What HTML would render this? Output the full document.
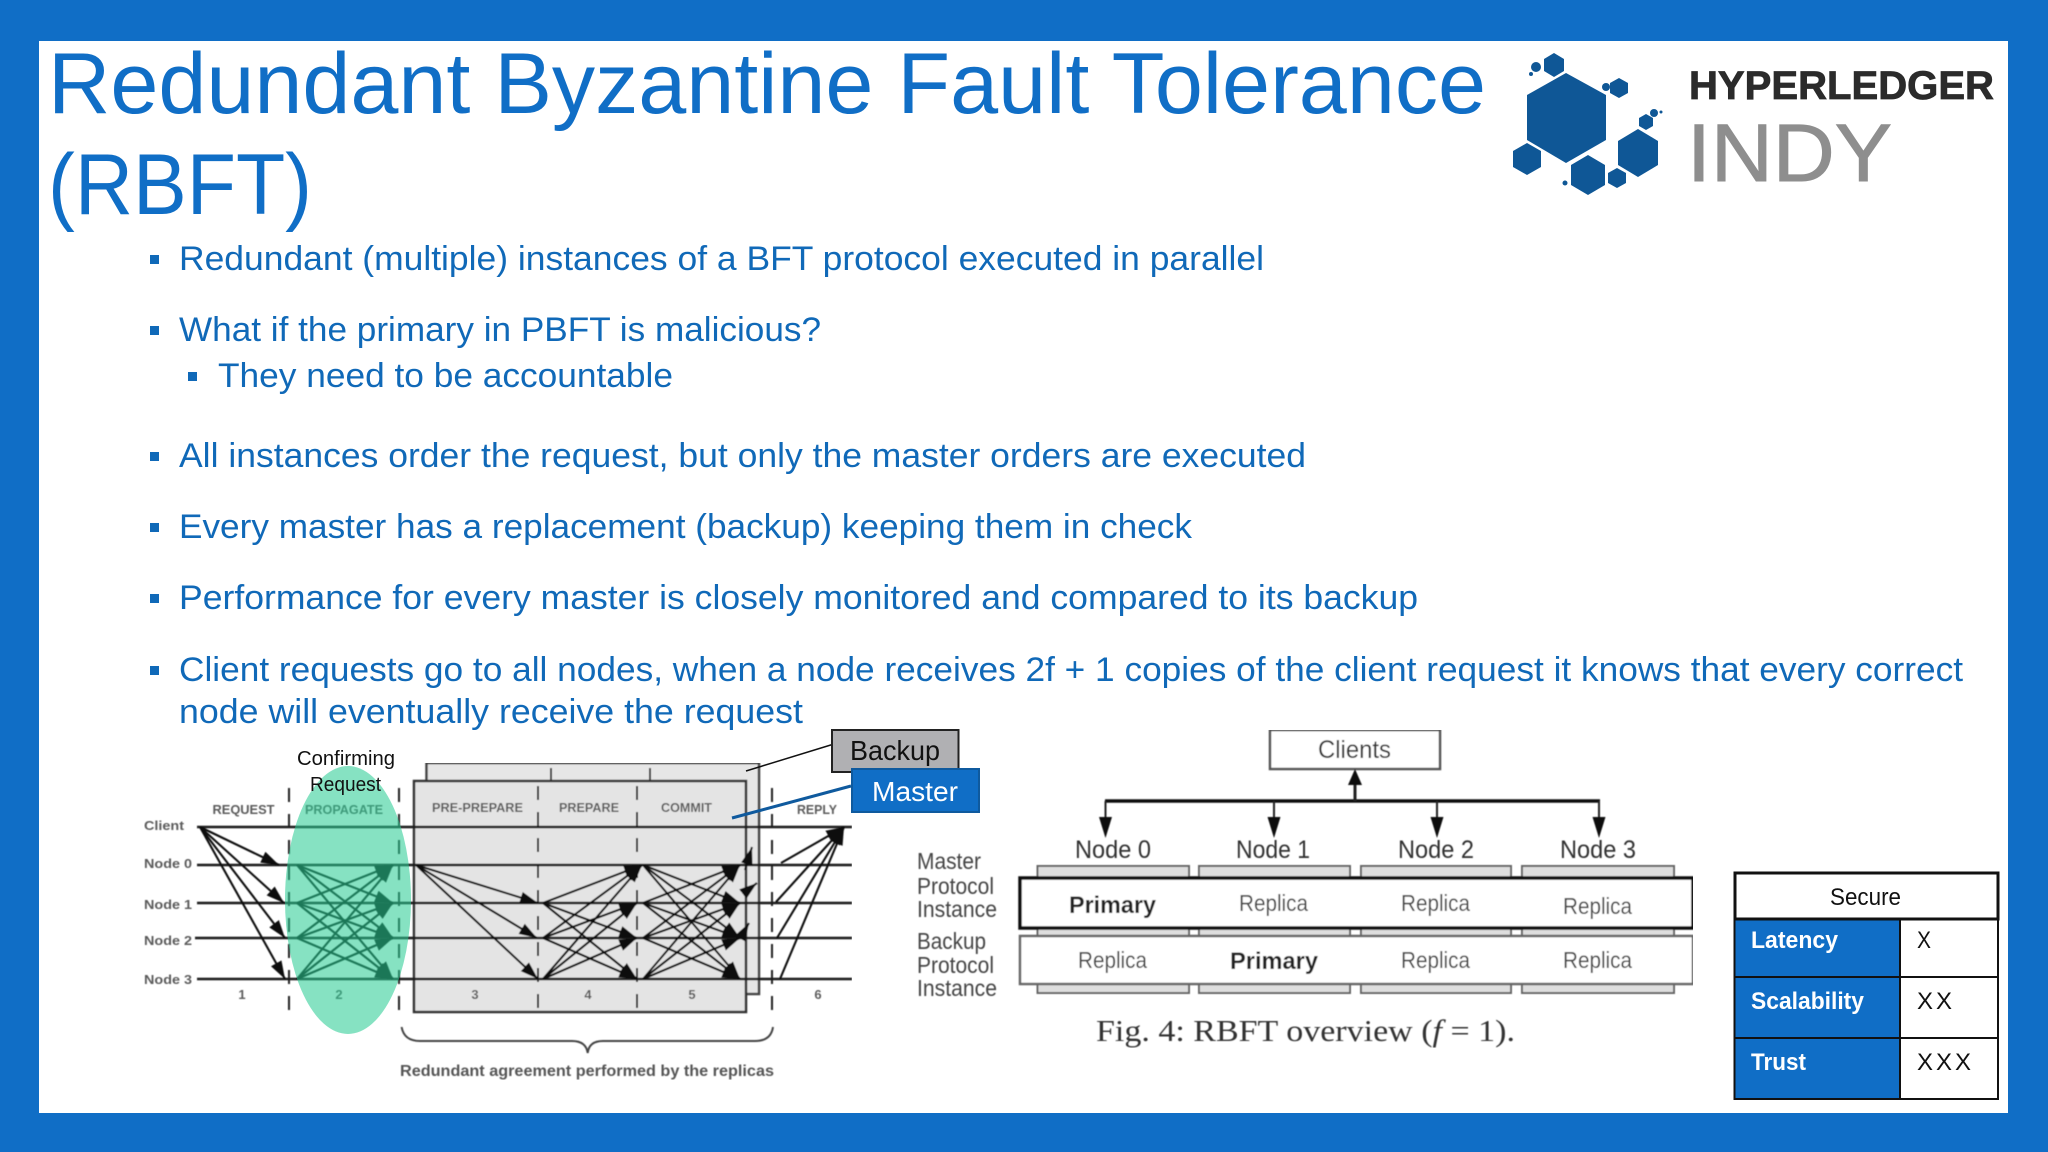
<!DOCTYPE html>
<html lang="en"><head><meta charset="utf-8"><title>Redundant Byzantine Fault Tolerance (RBFT)</title>
<style>
html,body{margin:0;padding:0;background:#106ec6;width:2048px;height:1152px;overflow:hidden}
svg{display:block;position:absolute;left:0;top:0}
text{font-family:"Liberation Sans",sans-serif}
.t{fill:#106ec6;font-size:86px}
.b{fill:#1069b8;font-size:34px}
.l{fill:#5c5c5c;font-size:13px;font-weight:bold}
.n{fill:#333;font-size:25px}
.s{fill:#444;font-size:23px}
.w{fill:#fff;font-size:24px;font-weight:bold}
.k{fill:#111;font-size:24px}
</style></head><body>
<svg width="2048" height="1152" viewBox="0 0 2048 1152">
<defs>
<marker id="a" markerUnits="userSpaceOnUse" markerWidth="19" markerHeight="14" refX="18" refY="7" orient="auto"><path d="M0 1 L18 7 L0 13 Z" fill="#111"/></marker>
<filter id="f" x="0" y="0" width="1" height="1"><feGaussianBlur stdDeviation="0.45"/></filter>
</defs>
<rect width="2048" height="1152" fill="#106ec6"/>
<rect x="39" y="41" width="1969" height="1072" fill="#fff"/>

<!-- title -->
<text class="t" x="48" y="113" textLength="1438" lengthAdjust="spacingAndGlyphs">Redundant Byzantine Fault Tolerance</text>
<text class="t" x="48" y="214" textLength="264" lengthAdjust="spacingAndGlyphs">(RBFT)</text>

<!-- bullets -->
<g fill="#1069b8">
<rect x="150" y="255" width="9" height="9"/><rect x="150" y="326" width="9" height="9"/>
<rect x="188" y="372" width="9" height="9"/><rect x="150" y="452" width="9" height="9"/>
<rect x="150" y="523" width="9" height="9"/><rect x="150" y="594" width="9" height="9"/>
<rect x="150" y="666" width="9" height="9"/>
</g>
<text class="b" x="179" y="270" textLength="1085" lengthAdjust="spacingAndGlyphs">Redundant (multiple) instances of a BFT protocol executed in parallel</text>
<text class="b" x="179" y="341" textLength="642" lengthAdjust="spacingAndGlyphs">What if the primary in PBFT is malicious?</text>
<text class="b" x="218" y="387" textLength="455" lengthAdjust="spacingAndGlyphs">They need to be accountable</text>
<text class="b" x="179" y="467" textLength="1127" lengthAdjust="spacingAndGlyphs">All instances order the request, but only the master orders are executed</text>
<text class="b" x="179" y="538" textLength="1013" lengthAdjust="spacingAndGlyphs">Every master has a replacement (backup) keeping them in check</text>
<text class="b" x="179" y="609" textLength="1239" lengthAdjust="spacingAndGlyphs">Performance for every master is closely monitored and compared to its backup</text>
<text class="b" x="179" y="681" textLength="1784" lengthAdjust="spacingAndGlyphs">Client requests go to all nodes, when a node receives 2f + 1 copies of the client request it knows that every correct</text>
<text class="b" x="179" y="723" textLength="624" lengthAdjust="spacingAndGlyphs">node will eventually receive the request</text>

<!-- logo -->
<g fill="#0f5796">
<polygon points="1566,73 1606,95 1606,140 1566,163 1527,140 1527,95"/>
<polygon points="1554,53 1564,59 1564,71 1554,77 1544,71 1544,59"/>
<polygon points="1619,78 1628,83 1628,93 1619,98 1610,93 1610,83"/>
<polygon points="1527,143 1541,151 1541,167 1527,175 1513,167 1513,151"/>
<polygon points="1588,155 1605,165 1605,185 1588,195 1571,185 1571,165"/>
<polygon points="1638,129 1658,141 1658,165 1638,177 1618,165 1618,141"/>
<polygon points="1617,168 1626,173 1626,183 1617,188 1608,183 1608,173"/>
<polygon points="1646,114 1653,118 1653,126 1646,130 1639,126 1639,118"/>
<circle cx="1536" cy="67" r="5"/><circle cx="1606" cy="87" r="4"/><circle cx="1654" cy="113" r="4"/><circle cx="1661" cy="112" r="1.5"/><circle cx="1565" cy="183" r="2.5"/><circle cx="1531" cy="74" r="2"/>
</g>
<text x="1689" y="99" font-size="40" font-weight="bold" fill="#2b2b2b" stroke="#2b2b2b" stroke-width="0.8" textLength="305" lengthAdjust="spacingAndGlyphs">HYPERLEDGER</text>
<text x="1687" y="181" font-size="82" fill="#8e8e8e" stroke="#8e8e8e" stroke-width="1" textLength="205" lengthAdjust="spacingAndGlyphs">INDY</text>

<!-- sequence diagram -->
<g filter="url(#f)">
<rect x="426.5" y="763" width="332.5" height="231" fill="#e6e6e6" stroke="#444" stroke-width="2.5"/>
<rect x="414" y="781" width="332" height="231" fill="#e4e4e4" stroke="#333" stroke-width="2.5"/>
<path d="M551 768V781M650 768V781" stroke="#333" stroke-width="2"/>
<g stroke="#222" stroke-width="2" stroke-dasharray="14 12" fill="none">
<path d="M289 788V1010M399 788V1010M538 786V1010M637 786V1010M772 788V1010"/>
</g>
<g stroke="#1a1a1a" stroke-width="2.6">
<path d="M197 827H852M197 865H852M197 903H852M195 938H852M197 979H852"/>
</g>
<g stroke="#111" stroke-width="2.1" fill="none" marker-end="url(#a)">
<path d="M200 827L279 865"/><path d="M200 827L284 903"/><path d="M200 827L285 938"/><path d="M200 827L285 979"/>
<path d="M297 865L393 903"/><path d="M297 865L393 938"/><path d="M297 865L393 979"/>
<path d="M297 903L393 865"/><path d="M297 903L393 938"/><path d="M297 903L393 979"/>
<path d="M297 938L393 865"/><path d="M297 938L393 903"/><path d="M297 938L393 979"/>
<path d="M297 979L393 865"/><path d="M297 979L393 903"/><path d="M297 979L393 938"/>
<path d="M416 865L538 903"/><path d="M416 865L537 938"/><path d="M416 865L538 979"/>
<path d="M543 903L642 865"/><path d="M543 903L637 938"/><path d="M543 903L637 979"/>
<path d="M543 938L642 865"/><path d="M543 938L637 903"/><path d="M543 938L637 979"/>
<path d="M543 979L642 865"/><path d="M543 979L637 903"/><path d="M543 979L637 938"/>
<path d="M643 865L740 903"/><path d="M643 865L740 938"/><path d="M643 865L740 979"/>
<path d="M643 903L740 865"/><path d="M643 903L740 938"/><path d="M643 903L740 979"/>
<path d="M643 938L740 865"/><path d="M643 938L740 903"/><path d="M643 938L740 979"/>
<path d="M643 979L740 865"/><path d="M643 979L740 903"/><path d="M643 979L740 938"/>
<path d="M745 870L752 847"/><path d="M748 890L757 883"/><path d="M745 930L749 923"/>
<path d="M781 863L844 827"/><path d="M776 902L844 827"/><path d="M777 938L844 827"/><path d="M780 979L844 827"/>
</g>
<text class="l" x="144" y="830" textLength="40" lengthAdjust="spacingAndGlyphs">Client</text>
<text class="l" x="144" y="868" textLength="48" lengthAdjust="spacingAndGlyphs">Node 0</text>
<text class="l" x="144" y="909" textLength="48" lengthAdjust="spacingAndGlyphs">Node 1</text>
<text class="l" x="144" y="945" textLength="48" lengthAdjust="spacingAndGlyphs">Node 2</text>
<text class="l" x="144" y="984" textLength="48" lengthAdjust="spacingAndGlyphs">Node 3</text>
<text class="l" x="212.5" y="814" textLength="62" lengthAdjust="spacingAndGlyphs">REQUEST</text>
<text class="l" x="305" y="814" textLength="78" lengthAdjust="spacingAndGlyphs">PROPAGATE</text>
<text class="l" x="432" y="812" textLength="91" lengthAdjust="spacingAndGlyphs">PRE-PREPARE</text>
<text class="l" x="559" y="812" textLength="60" lengthAdjust="spacingAndGlyphs">PREPARE</text>
<text class="l" x="661" y="812" textLength="51" lengthAdjust="spacingAndGlyphs">COMMIT</text>
<text class="l" x="797" y="814" textLength="40" lengthAdjust="spacingAndGlyphs">REPLY</text>
<text class="l" x="242" y="999" text-anchor="middle">1</text><text class="l" x="339" y="999" text-anchor="middle">2</text><text class="l" x="475" y="999" text-anchor="middle">3</text><text class="l" x="588" y="999" text-anchor="middle">4</text><text class="l" x="692" y="999" text-anchor="middle">5</text><text class="l" x="818" y="999" text-anchor="middle">6</text>
<path d="M401.6 1027Q404 1041 420 1041H572Q586 1041 587.7 1053Q589 1041 603 1041H755Q771 1041 773 1027" fill="none" stroke="#444" stroke-width="2"/>
<text x="400" y="1076" font-size="16" font-weight="bold" fill="#555" textLength="374" lengthAdjust="spacingAndGlyphs">Redundant agreement performed by the replicas</text>
</g>
<ellipse cx="348" cy="900" rx="63" ry="134" fill="rgb(40,203,146)" opacity="0.56"/>
<text x="297" y="765" font-size="20" fill="#111" textLength="98" lengthAdjust="spacingAndGlyphs">Confirming</text>
<text x="310" y="791" font-size="20" fill="#111" textLength="71" lengthAdjust="spacingAndGlyphs">Request</text>

<!-- callouts -->
<line x1="746" y1="771" x2="834" y2="744" stroke="#111" stroke-width="1.5"/>
<line x1="732" y1="818" x2="851" y2="786" stroke="#0f5a9e" stroke-width="3"/>
<rect x="832" y="730" width="126.500" height="42" fill="#b0b0b3" stroke="#222" stroke-width="2"/>
<text x="850" y="760" font-size="28" fill="#111" textLength="90" lengthAdjust="spacingAndGlyphs">Backup</text>
<rect x="852" y="769" width="127" height="43" fill="#106ec6" stroke="#0f5a9e" stroke-width="2"/>
<text x="872" y="801" font-size="28" fill="#fff" textLength="86" lengthAdjust="spacingAndGlyphs">Master</text>

<!-- RBFT overview -->
<g filter="url(#f)">
<rect x="1270" y="730" width="170" height="39" fill="#fff" stroke="#555" stroke-width="2.500"/>
<text class="n" x="1318" y="758" textLength="73" lengthAdjust="spacingAndGlyphs">Clients</text>
<path d="M1105 801H1600" stroke="#111" stroke-width="3.500"/>
<path d="M1355 801V780" stroke="#222" stroke-width="3"/>
<polygon points="1355,769 1362,785 1348,785" fill="#111"/>
<path d="M1105.500 801V820M1274 801V820M1437 801V820M1599 801V820" stroke="#222" stroke-width="2"/>
<polygon points="1099,817 1112,817 1105.500,838" fill="#111"/><polygon points="1267.500,817 1280.500,817 1274,838" fill="#111"/>
<polygon points="1430.500,817 1443.500,817 1437,838" fill="#111"/><polygon points="1592.500,817 1605.500,817 1599,838" fill="#111"/>
<text class="n" x="1075" y="858" textLength="76" lengthAdjust="spacingAndGlyphs">Node 0</text>
<text class="n" x="1236" y="858" textLength="74" lengthAdjust="spacingAndGlyphs">Node 1</text>
<text class="n" x="1398" y="858" textLength="76" lengthAdjust="spacingAndGlyphs">Node 2</text>
<text class="n" x="1560" y="858" textLength="76" lengthAdjust="spacingAndGlyphs">Node 3</text>
<g fill="#dedede" stroke="#666" stroke-width="2">
<rect x="1037.500" y="866" width="151.500" height="127"/><rect x="1199" y="866" width="151" height="127"/>
<rect x="1361" y="866" width="150" height="127"/><rect x="1522" y="866" width="152" height="127"/>
</g>
<rect x="1020" y="936" width="673" height="48" fill="#fff" stroke="#666" stroke-width="2.500"/>
<rect x="1020" y="878" width="673" height="50" fill="#fff" stroke="#111" stroke-width="3.500"/>
<text x="1069" y="913" font-size="24" font-weight="bold" fill="#222" textLength="87" lengthAdjust="spacingAndGlyphs">Primary</text>
<text class="s" x="1239" y="911" textLength="69" lengthAdjust="spacingAndGlyphs">Replica</text>
<text class="s" x="1401" y="911" textLength="69" lengthAdjust="spacingAndGlyphs">Replica</text>
<text class="s" x="1563" y="914" textLength="69" lengthAdjust="spacingAndGlyphs">Replica</text>
<text class="s" x="1078" y="968" textLength="69" lengthAdjust="spacingAndGlyphs">Replica</text>
<text x="1230" y="969" font-size="24" font-weight="bold" fill="#222" textLength="88" lengthAdjust="spacingAndGlyphs">Primary</text>
<text class="s" x="1401" y="968" textLength="69" lengthAdjust="spacingAndGlyphs">Replica</text>
<text class="s" x="1563" y="968" textLength="69" lengthAdjust="spacingAndGlyphs">Replica</text>
<text class="s" x="917" y="869" textLength="64" lengthAdjust="spacingAndGlyphs">Master</text>
<text class="s" x="917" y="894" textLength="77" lengthAdjust="spacingAndGlyphs">Protocol</text>
<text class="s" x="917" y="917" textLength="80" lengthAdjust="spacingAndGlyphs">Instance</text>
<text class="s" x="917" y="949" textLength="69" lengthAdjust="spacingAndGlyphs">Backup</text>
<text class="s" x="917" y="973" textLength="77" lengthAdjust="spacingAndGlyphs">Protocol</text>
<text class="s" x="917" y="996" textLength="80" lengthAdjust="spacingAndGlyphs">Instance</text>
<text x="1096" y="1041" font-size="31" fill="#333" style="font-family:'Liberation Serif',serif" textLength="419" lengthAdjust="spacingAndGlyphs">Fig. 4: RBFT overview (<tspan font-style="italic">f</tspan> = 1).</text>
</g>

<!-- table -->
<rect x="1735" y="919" width="165" height="180" fill="#106ec6"/>
<rect x="1900" y="919" width="98" height="180" fill="#fff"/>
<rect x="1735" y="873" width="263" height="46" fill="#fff" stroke="#111" stroke-width="3"/>
<path d="M1735 977H1998M1735 1038H1998" stroke="#111" stroke-width="2"/>
<path d="M1900 919V1099" stroke="#111" stroke-width="2"/>
<rect x="1734.500" y="873" width="263.500" height="226" fill="none" stroke="#111" stroke-width="2"/>
<text x="1830" y="905" font-size="24" fill="#111" textLength="71" lengthAdjust="spacingAndGlyphs">Secure</text>
<text class="w" x="1751" y="948" textLength="87" lengthAdjust="spacingAndGlyphs">Latency</text>
<text class="w" x="1751" y="1009" textLength="113" lengthAdjust="spacingAndGlyphs">Scalability</text>
<text class="w" x="1751" y="1070" textLength="55" lengthAdjust="spacingAndGlyphs">Trust</text>
<text class="k" x="1917" y="948" textLength="14" lengthAdjust="spacingAndGlyphs">X</text>
<text class="k" x="1917" y="1009" textLength="35" lengthAdjust="spacing">XX</text>
<text class="k" x="1917" y="1070" textLength="54" lengthAdjust="spacing">XXX</text>
</svg>
</body></html>
